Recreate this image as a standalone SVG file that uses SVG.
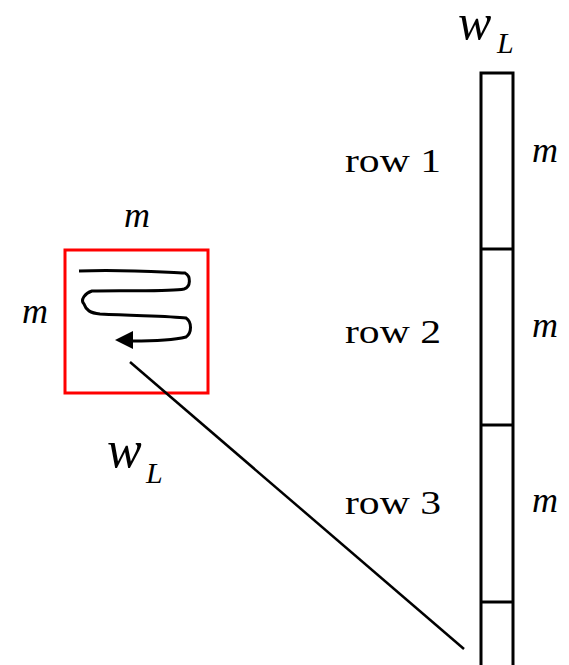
<svg xmlns="http://www.w3.org/2000/svg" width="569" height="665" viewBox="0 0 569 665">
<rect width="569" height="665" fill="#fff"/>
<g id="column" stroke="#000" stroke-width="3" fill="none">
<path d="M481,665 V73 H513 V665"/>
<line x1="481" y1="249" x2="513" y2="249"/>
<line x1="481" y1="425" x2="513" y2="425"/>
<line x1="481" y1="602" x2="513" y2="602"/>
</g>
<g id="block">
<rect x="65" y="250" width="143" height="143" fill="none" stroke="#f00" stroke-width="3"/>
<path d="M79,271 C120,269 160,272 185,273 C191,276 191,287 184,289 C170,292 120,290 92,291 C85,293 80,300 84,304 C86,310 90,313 100,314 C140,316 170,316 186,318 C192,322 192,333 186,337 C170,341 150,341 132,341" fill="none" stroke="#000" stroke-width="3"/>
<path d="M115,340 L133,331 L133,349 Z" fill="#000"/>
</g>
<g id="connectors">
<line x1="130" y1="362" x2="464" y2="649" stroke="#000" stroke-width="2.5"/>
</g>
<text x="458" y="39" font-size="50" font-family="Times New Roman" font-style="italic">w</text>
<text x="497" y="53" font-size="30" font-family="Times New Roman" font-style="italic">L</text>
<text x="107" y="467" font-size="52" font-family="Times New Roman" font-style="italic">w</text>
<text x="146" y="483" font-size="30" font-family="Times New Roman" font-style="italic">L</text>
<text x="345" y="172" font-size="33" font-family="Times New Roman" textLength="96" lengthAdjust="spacingAndGlyphs">row 1</text>
<text x="345" y="343" font-size="33" font-family="Times New Roman" textLength="96" lengthAdjust="spacingAndGlyphs">row 2</text>
<text x="345" y="514" font-size="33" font-family="Times New Roman" textLength="96" lengthAdjust="spacingAndGlyphs">row 3</text>
<text x="532" y="162" font-size="36" font-family="Times New Roman" font-style="italic">m</text>
<text x="532" y="337" font-size="36" font-family="Times New Roman" font-style="italic">m</text>
<text x="532" y="512" font-size="36" font-family="Times New Roman" font-style="italic">m</text>
<text x="124" y="227" font-size="36" font-family="Times New Roman" font-style="italic">m</text>
<text x="22" y="323" font-size="36" font-family="Times New Roman" font-style="italic">m</text>
</svg>
